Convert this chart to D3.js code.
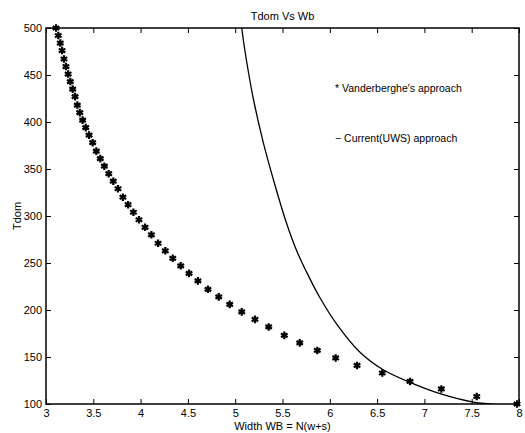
<!DOCTYPE html>
<html>
<head>
<meta charset="utf-8">
<script src="https://cdn.jsdelivr.net/npm/d3@7"></script>
<style>
  body { margin: 0; background: #fff; }
  text { font-family: "Liberation Sans", Arial, sans-serif; fill: #000; }
</style>
</head>
<body>
<div id="chart"></div>
<script>
// Vanderberghe's approach (stars)
var vandX = [3.106, 3.130, 3.151, 3.170, 3.190, 3.211, 3.234, 3.257, 3.282, 3.307,
             3.331, 3.357, 3.387, 3.420, 3.455, 3.493, 3.532, 3.574, 3.617, 3.663,
             3.711, 3.761, 3.813, 3.868, 3.924, 3.983, 4.047, 4.114, 4.185, 4.261,
             4.340, 4.424, 4.512, 4.606, 4.712, 4.826, 4.942, 5.069, 5.209, 5.354,
             5.519, 5.682, 5.868, 6.062, 6.288, 6.555, 6.848, 7.179, 7.553, 7.979];
var vandY = [500, 492, 484, 476, 467, 459, 451, 443, 435, 427,
             418, 410, 402, 394, 386, 378, 369, 361, 353, 345,
             337, 329, 320, 312, 304, 296, 288, 280, 271, 263,
             255, 247, 239, 231, 222, 214, 206, 198, 190, 182,
             173, 165, 157, 149, 141, 133, 124, 116, 108, 100];

// Current(UWS) approach (solid line)
var uwsX = [5.03, 5.069, 5.104, 5.191, 5.297, 5.403, 5.534, 5.650, 5.756, 5.896,
            6.073, 6.319, 6.555, 6.848, 7.165, 7.517, 7.69, 8.0];
var uwsY = [535, 500, 475, 425, 378, 339, 295, 263, 240, 213,
            185, 155, 137, 123, 111, 102, 100, 97];

var xTicks = [3, 3.5, 4, 4.5, 5, 5.5, 6, 6.5, 7, 7.5, 8];
var yTicks = [100, 150, 200, 250, 300, 350, 400, 450, 500];

var W = 525, H = 433;
var margin = {top: 28, right: 6, bottom: 29, left: 46};
var width = W - margin.left - margin.right;
var height = H - margin.top - margin.bottom;

var svg = d3.select("#chart").append("svg")
            .attr("width", W)
            .attr("height", H);

var g = svg.append("g")
           .attr("transform", "translate(" + margin.left + "," + margin.top + ")");

var x = d3.scaleLinear().domain([3, 8]).range([0, width]);
var y = d3.scaleLinear().domain([100, 500]).range([height, 0]);

g.append("clipPath").attr("id", "clip")
 .append("rect").attr("width", width).attr("height", height);

// axes, ticks pointing inward on all four sides
function styleAxis(sel) {
  sel.select(".domain").remove();
  sel.selectAll("line").attr("stroke", "#000").attr("stroke-width", 1);
  sel.selectAll("text").style("font-size", "11px");
}

g.append("g")
 .attr("transform", "translate(0," + height + ")")
 .call(d3.axisBottom(x).tickValues(xTicks).tickFormat(d3.format("")).tickSize(-5).tickPadding(5))
 .call(styleAxis);

g.append("g")
 .call(d3.axisTop(x).tickValues(xTicks).tickSize(-5).tickFormat(""))
 .call(styleAxis);

g.append("g")
 .call(d3.axisLeft(y).tickValues(yTicks).tickSize(-5).tickPadding(4))
 .call(styleAxis);

g.append("g")
 .attr("transform", "translate(" + width + ",0)")
 .call(d3.axisRight(y).tickValues(yTicks).tickSize(-5).tickFormat(""))
 .call(styleAxis);

// box
g.append("rect")
 .attr("width", width)
 .attr("height", height)
 .attr("fill", "none")
 .attr("stroke", "#000")
 .attr("stroke-width", 1.5);

// solid curve
var line = d3.line()
             .x(function(d, i) { return x(uwsX[i]); })
             .y(function(d) { return y(d); })
             .curve(d3.curveCatmullRom.alpha(0.5));

g.append("path")
 .attr("clip-path", "url(#clip)")
 .attr("d", line(uwsY))
 .attr("fill", "none")
 .attr("stroke", "#000")
 .attr("stroke-width", 1.3);

// star markers
var star = d3.symbol().type(d3.symbolAsterisk).size(40);
g.selectAll(".star")
 .data(vandY)
 .enter().append("path")
 .attr("class", "star")
 .attr("d", star)
 .attr("transform", function(d, i) { return "translate(" + x(vandX[i]) + "," + y(d) + ")"; })
 .attr("fill", "none")
 .attr("stroke", "#000")
 .attr("stroke-width", 2.2);

// title and labels
svg.append("text")
   .attr("x", margin.left + width / 2)
   .attr("y", 20)
   .attr("text-anchor", "middle")
   .style("font-size", "11px")
   .text("Tdom Vs Wb");

svg.append("text")
   .attr("x", margin.left + width / 2)
   .attr("y", 430)
   .attr("text-anchor", "middle")
   .style("font-size", "11px")
   .text("Width WB = N(w+s)");

svg.append("text")
   .attr("transform", "translate(21," + (margin.top + height / 2) + ") rotate(-90)")
   .attr("text-anchor", "middle")
   .style("font-size", "11px")
   .text("Tdom");

// in-plot legend text
g.append("text")
 .attr("x", 335 - margin.left)
 .attr("y", 92 - margin.top)
 .style("font-size", "10.5px")
 .text("* Vanderberghe's approach");

g.append("text")
 .attr("x", 335 - margin.left)
 .attr("y", 142 - margin.top)
 .style("font-size", "10.5px")
 .text("\u2212 Current(UWS) approach");
</script>
</body>
</html>
